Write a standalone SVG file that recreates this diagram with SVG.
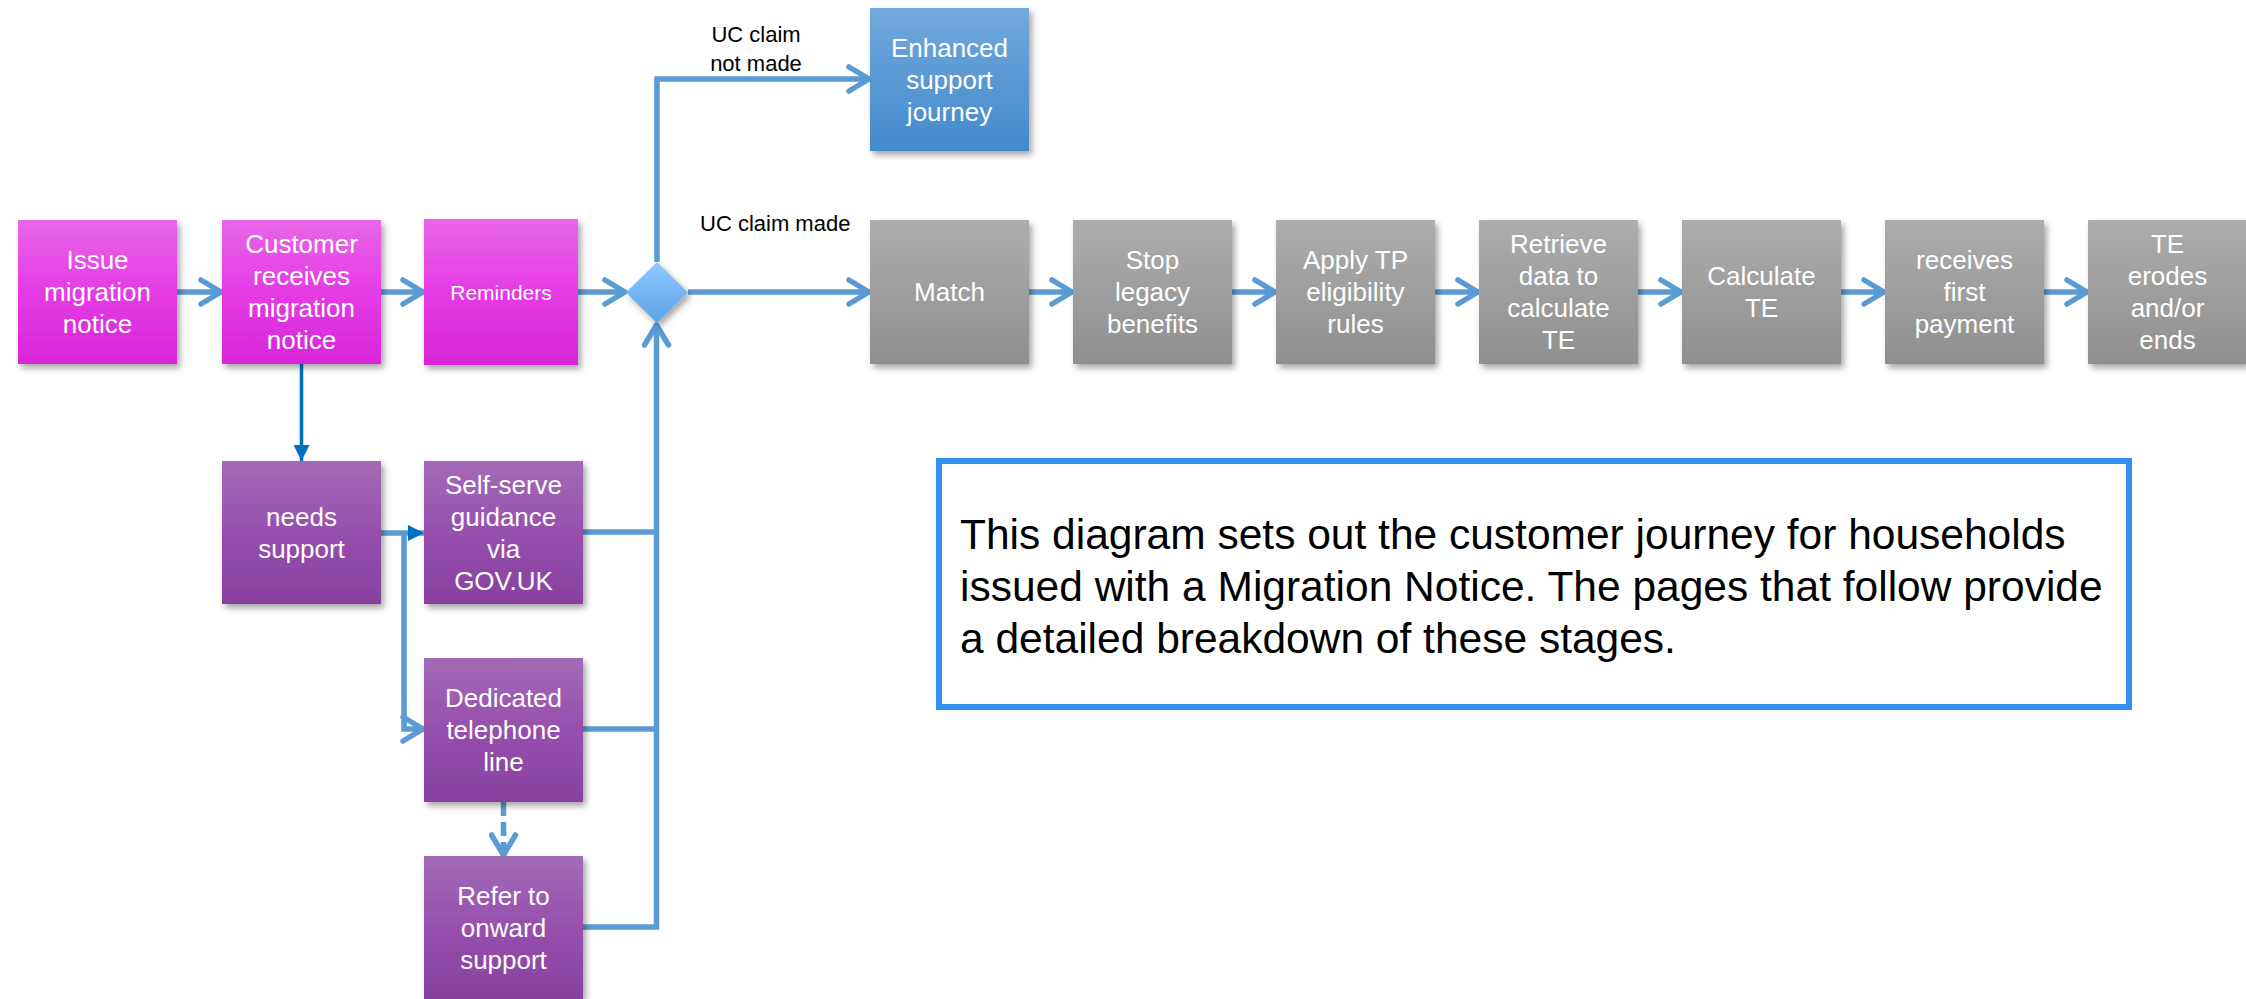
<svg xmlns="http://www.w3.org/2000/svg" width="2246" height="999" viewBox="0 0 2246 999">
<style>
.nt{font-family:"Liberation Sans",Arial,sans-serif;font-size:26px;fill:#ffffff;text-anchor:middle}
.lbl{font-family:"Liberation Sans",Arial,sans-serif;font-size:22px;fill:#000000}
.note{font-family:"Liberation Sans",Arial,sans-serif;font-size:42.5px;fill:#000000}
.c{fill:none;stroke:#5b9bd5;stroke-width:5.5}
.pk{fill:url(#gPink);filter:url(#sh)}
.pu{fill:url(#gPurple);filter:url(#sh)}
.gr{fill:url(#gGray);filter:url(#sh)}
</style>
<defs>
<linearGradient id="gPink" x1="0" y1="0" x2="0" y2="1"><stop offset="0" stop-color="#e866e8"/><stop offset="0.5" stop-color="#e53be5"/><stop offset="1" stop-color="#d826d8"/></linearGradient>
<linearGradient id="gPurple" x1="0" y1="0" x2="0" y2="1"><stop offset="0" stop-color="#a26bb6"/><stop offset="0.5" stop-color="#974fae"/><stop offset="1" stop-color="#88409d"/></linearGradient>
<linearGradient id="gGray" x1="0" y1="0" x2="0" y2="1"><stop offset="0" stop-color="#adadad"/><stop offset="1" stop-color="#8f8f8f"/></linearGradient>
<linearGradient id="gBlue" x1="0" y1="0" x2="0" y2="1"><stop offset="0" stop-color="#72a8dd"/><stop offset="1" stop-color="#4389cd"/></linearGradient>
<linearGradient id="gDia" x1="0" y1="0" x2="0" y2="1"><stop offset="0" stop-color="#90c8ff"/><stop offset="1" stop-color="#5aa3e6"/></linearGradient>
<filter id="sh" x="-20%" y="-20%" width="140%" height="140%"><feDropShadow dx="3" dy="4" stdDeviation="3" flood-color="#000" flood-opacity="0.35"/></filter>
<marker id="chev" markerUnits="userSpaceOnUse" viewBox="0 0 28 30" markerWidth="28" markerHeight="30" refX="25" refY="15" orient="auto"><path d="M4,3 L24,15 L4,27" fill="none" stroke="#5b9bd5" stroke-width="5.5" stroke-linecap="round" stroke-linejoin="round"/></marker>
<marker id="tri" markerUnits="userSpaceOnUse" viewBox="0 0 16 16" markerWidth="16" markerHeight="16" refX="16" refY="8" orient="auto"><path d="M0,0 L16,8 L0,16 Z" fill="#0070c0"/></marker>
</defs>

<g id="connectors">
<path class="c" d="M177,292 H222" marker-end="url(#chev)"/>
<path class="c" d="M381,292 H424" marker-end="url(#chev)"/>
<path class="c" d="M578,292 H626" marker-end="url(#chev)"/>
<path class="c" d="M688,292 H870" marker-end="url(#chev)"/>
<path class="c" d="M1029,292 H1073" marker-end="url(#chev)"/>
<path class="c" d="M1232,292 H1276" marker-end="url(#chev)"/>
<path class="c" d="M1435,292 H1479" marker-end="url(#chev)"/>
<path class="c" d="M1638,292 H1682" marker-end="url(#chev)"/>
<path class="c" d="M1841,292 H1885" marker-end="url(#chev)"/>
<path class="c" d="M2044,292 H2088" marker-end="url(#chev)"/>
<path class="c" d="M657,262 V79 H870" marker-end="url(#chev)"/>
<path d="M301.5,364 V461" fill="none" stroke="#0070c0" stroke-width="3.5" marker-end="url(#tri)"/>
<path class="c" d="M381,533 H424" marker-end="url(#tri)"/>
<path class="c" d="M404,533 V729 H424" marker-end="url(#chev)"/>
<path class="c" d="M503.5,802 V856" stroke-dasharray="14 6" marker-end="url(#chev)"/>
<path class="c" d="M583,532 H656.5"/>
<path class="c" d="M583,729 H656.5"/>
<path class="c" d="M583,927 H656.5 V324" marker-end="url(#chev)"/>
</g>

<g id="labels">
<text class="lbl" x="756" y="42" text-anchor="middle">UC claim</text>
<text class="lbl" x="756" y="71" text-anchor="middle">not made</text>
<text class="lbl" x="700" y="231">UC claim made</text>
</g>

<g id="issue"><rect class="pk" x="18" y="220" width="159" height="144"/><text class="nt"><tspan x="97.5" y="269.3">Issue</tspan><tspan x="97.5" y="301.3">migration</tspan><tspan x="97.5" y="333.3">notice</tspan></text></g>
<g id="customer"><rect class="pk" x="222" y="220" width="159" height="144"/><text class="nt"><tspan x="301.5" y="253.3">Customer</tspan><tspan x="301.5" y="285.3">receives</tspan><tspan x="301.5" y="317.3">migration</tspan><tspan x="301.5" y="349.3">notice</tspan></text></g>
<g id="reminders"><rect class="pk" x="424" y="219" width="154" height="146"/><text class="nt" style="font-size:21px" x="501" y="299.5">Reminders</text></g>
<g id="decision"><polygon points="657,262 688,292.5 657,323 626,292.5" fill="url(#gDia)" filter="url(#sh)"/></g>
<g id="enhanced"><rect x="870" y="8" width="159" height="143" fill="url(#gBlue)" filter="url(#sh)"/><text class="nt"><tspan x="949.5" y="56.8">Enhanced</tspan><tspan x="949.5" y="88.8">support</tspan><tspan x="949.5" y="120.8">journey</tspan></text></g>

<g id="match"><rect class="gr" x="870" y="220" width="159" height="144"/><text class="nt" x="949.5" y="301.3">Match</text></g>
<g id="stop"><rect class="gr" x="1073" y="220" width="159" height="144"/><text class="nt"><tspan x="1152.5" y="269.3">Stop</tspan><tspan x="1152.5" y="301.3">legacy</tspan><tspan x="1152.5" y="333.3">benefits</tspan></text></g>
<g id="apply"><rect class="gr" x="1276" y="220" width="159" height="144"/><text class="nt"><tspan x="1355.5" y="269.3">Apply TP</tspan><tspan x="1355.5" y="301.3">eligibility</tspan><tspan x="1355.5" y="333.3">rules</tspan></text></g>
<g id="retrieve"><rect class="gr" x="1479" y="220" width="159" height="144"/><text class="nt"><tspan x="1558.5" y="253.3">Retrieve</tspan><tspan x="1558.5" y="285.3">data to</tspan><tspan x="1558.5" y="317.3">calculate</tspan><tspan x="1558.5" y="349.3">TE</tspan></text></g>
<g id="calculate"><rect class="gr" x="1682" y="220" width="159" height="144"/><text class="nt"><tspan x="1761.5" y="285.3">Calculate</tspan><tspan x="1761.5" y="317.3">TE</tspan></text></g>
<g id="receives"><rect class="gr" x="1885" y="220" width="159" height="144"/><text class="nt"><tspan x="1964.5" y="269.3">receives</tspan><tspan x="1964.5" y="301.3">first</tspan><tspan x="1964.5" y="333.3">payment</tspan></text></g>
<g id="erodes"><rect class="gr" x="2088" y="220" width="159" height="144"/><text class="nt"><tspan x="2167.5" y="253.3">TE</tspan><tspan x="2167.5" y="285.3">erodes</tspan><tspan x="2167.5" y="317.3">and/or</tspan><tspan x="2167.5" y="349.3">ends</tspan></text></g>

<g id="needs"><rect class="pu" x="222" y="461" width="159" height="143"/><text class="nt"><tspan x="301.5" y="525.8">needs</tspan><tspan x="301.5" y="557.8">support</tspan></text></g>
<g id="selfserve"><rect class="pu" x="424" y="461" width="159" height="143"/><text class="nt"><tspan x="503.5" y="493.8">Self-serve</tspan><tspan x="503.5" y="525.8">guidance</tspan><tspan x="503.5" y="557.8">via</tspan><tspan x="503.5" y="589.8">GOV.UK</tspan></text></g>
<g id="telephone"><rect class="pu" x="424" y="658" width="159" height="144"/><text class="nt"><tspan x="503.5" y="707.3">Dedicated</tspan><tspan x="503.5" y="739.3">telephone</tspan><tspan x="503.5" y="771.3">line</tspan></text></g>
<g id="refer"><rect class="pu" x="424" y="856" width="159" height="143"/><text class="nt"><tspan x="503.5" y="904.8">Refer to</tspan><tspan x="503.5" y="936.8">onward</tspan><tspan x="503.5" y="968.8">support</tspan></text></g>

<g id="note"><rect x="939" y="461" width="1190" height="246" fill="#ffffff" stroke="#3390f0" stroke-width="6"/><text class="note"><tspan x="960" y="549">This diagram sets out the customer journey for households</tspan><tspan x="960" y="601">issued with a Migration Notice. The pages that follow provide</tspan><tspan x="960" y="653">a detailed breakdown of these stages.</tspan></text></g>
</svg>
